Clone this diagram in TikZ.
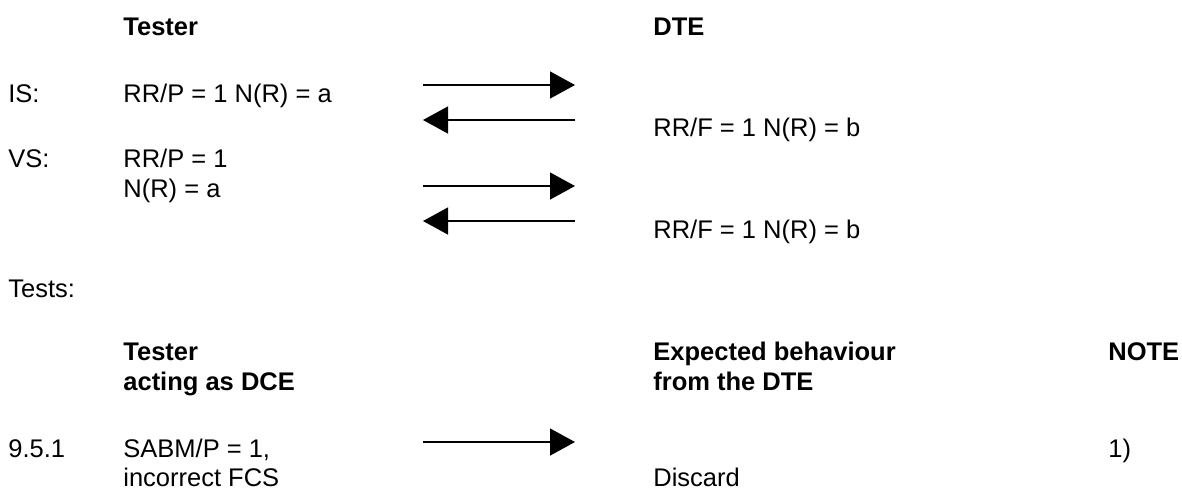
\documentclass[tikz,border=0pt]{standalone}
\usepackage{fontspec}
\setmainfont{Liberation Sans}
\usetikzlibrary{arrows.meta}
\begin{document}
\begin{tikzpicture}[x=0.5pt,y=-0.5pt,
  lbl/.style={anchor=base west, inner sep=0pt, font=\fontsize{12.75}{15}\selectfont},
  hdr/.style={lbl, font=\fontsize{12.75}{15}\selectfont\bfseries},
  msg/.style={line width=0.7pt, -{Triangle[length=12.5pt,width=13.5pt]}},
]
\useasboundingbox (0,0) rectangle (1182,489);
% headers
\node[hdr] (h1) at (123,35) {Tester};
\node[hdr] (h2) at (653,35) {DTE};
% IS
\node[lbl] (is) at (8,102) {IS:};
\node[lbl] (is1) at (123,102) {RR/P = 1 N(R) = a};
\node[lbl] (is2) at (653,136) {RR/F = 1 N(R) = b};
\coordinate (a1s) at (423,85); \coordinate (a1e) at (575,85);
\coordinate (a2s) at (575,120); \coordinate (a2e) at (423,120);
\draw[msg] (a1s) -- (a1e);
\draw[msg] (a2s) -- (a2e);
% VS
\node[lbl] (vs) at (8,167) {VS:};
\node[lbl] (vs1) at (123,167) {RR/P = 1};
\node[lbl] (vs2) at (123,197) {N(R) = a};
\node[lbl] (vs3) at (653,238) {RR/F = 1 N(R) = b};
\coordinate (b1s) at (423,186); \coordinate (b1e) at (575,186);
\coordinate (b2s) at (575,221); \coordinate (b2e) at (423,221);
\draw[msg] (b1s) -- (b1e);
\draw[msg] (b2s) -- (b2e);
% Tests
\node[lbl] (tests) at (8,297) {Tests:};
\node[hdr] (t1) at (123,360) {Tester};
\node[hdr] (t2) at (123,390) {acting as DCE};
\node[hdr] (e1) at (653,360) {Expected behaviour};
\node[hdr] (e2) at (653,390) {from the DTE};
\node[hdr] (n1) at (1108,360) {NOTE};
\node[lbl] (r0) at (8,457) {9.5.1};
\node[lbl] (r1) at (123,457) {SABM/P = 1,};
\node[lbl] (r2) at (123,486) {incorrect FCS};
\node[lbl] (r3) at (653,486) {Discard};
\node[lbl] (r4) at (1108,457) {1)};
\coordinate (c1s) at (423,442); \coordinate (c1e) at (575,442);
\draw[msg] (c1s) -- (c1e);
\end{tikzpicture}
\end{document}
